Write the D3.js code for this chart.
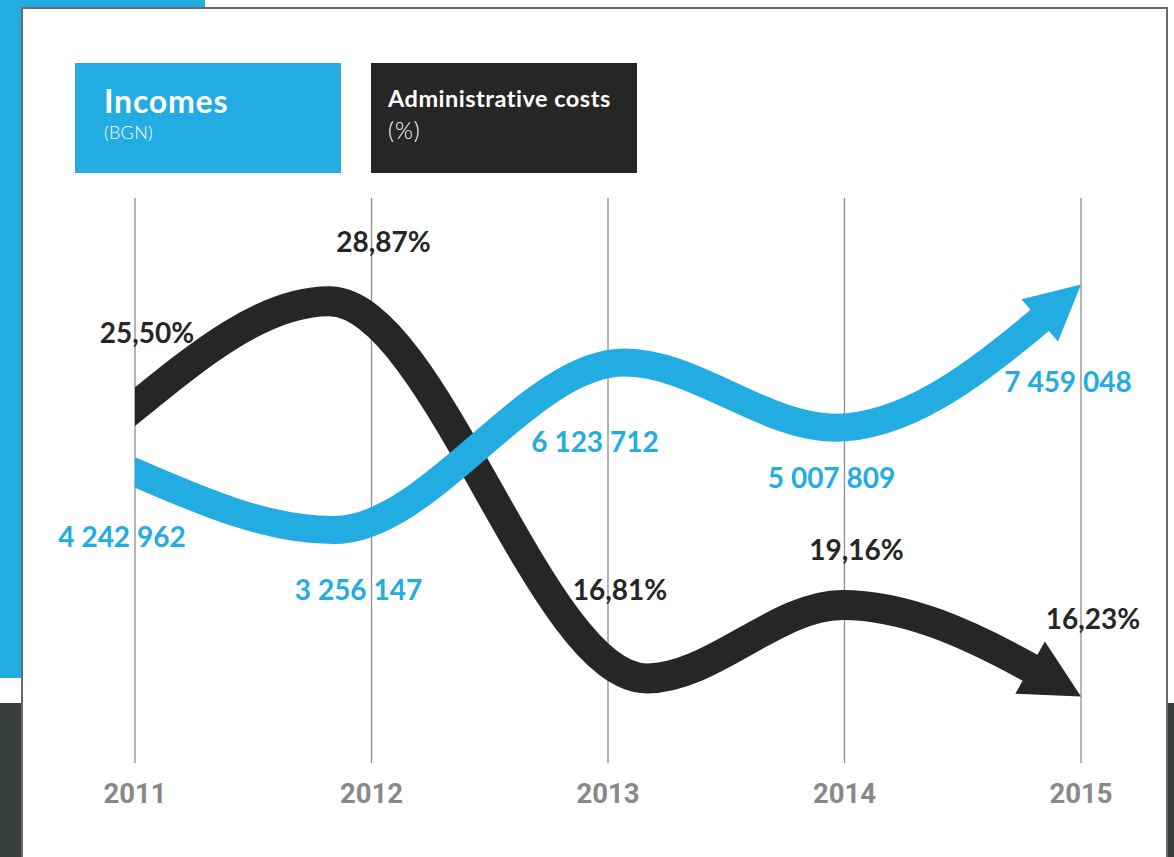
<!DOCTYPE html>
<html>
<head>
<meta charset="utf-8">
<script src="https://cdn.jsdelivr.net/npm/d3@7"></script>
<style>
  body { margin: 0; background: #fff; }
  svg { display: block; }
</style>
</head>
<body>
<svg id="chart" width="1174" height="857"></svg>
<script>
// data
const years = [2011, 2012, 2013, 2014, 2015];
const incomes = [4242962, 3256147, 6123712, 5007809, 7459048];
const adminCosts = [25.50, 28.87, 16.81, 19.16, 16.23];

// the drawn curves turn a bit off the year lines (in years)
const incomeBends = [2011, 2011.84, 2013.07, 2013.96, 2015];
const costBends = [2011, 2011.82, 2013.165, 2013.99, 2015];

// label nudges (px), layout only
const incomeLabelDy = [75, 70, 89, 60, 107];
const costLabelDy = [-64, -49, -78, -45, -68];

const BLUE = '#23ace2',
  BLACK = '#262626',
  DARK = '#373f3f';

const svg = d3.select('#chart');

const locale = d3.formatLocale({decimal: ',', thousands: ' ', grouping: [3], currency: ['', '']});
const fmtIncome = locale.format(',d');
const fmtCost = (v) => locale.format(',.2f')(v) + '%';

// background decoration
svg.append('rect').attr('x', 0).attr('y', 0).attr('width', 205).attr('height', 10).attr('fill', BLUE);
svg.append('rect').attr('x', 0).attr('y', 0).attr('width', 21).attr('height', 678).attr('fill', BLUE);
svg.append('rect').attr('x', 0).attr('y', 703).attr('width', 21).attr('height', 154).attr('fill', DARK);
svg.append('rect').attr('x', 1167).attr('y', 703).attr('width', 7).attr('height', 154).attr('fill', DARK);
svg.append('rect')
  .attr('x', 22).attr('y', 8).attr('width', 1145).attr('height', 900)
  .attr('fill', '#fff').attr('stroke', '#6a6a6a').attr('stroke-width', 2);

// legend
const legend = [
  {title: 'Incomes', unit: '(BGN)', color: BLUE, x: 75, dx: 29, size: 32, ls: 0.8, unitSize: 18, uls: 0.3, ty: 113, uy: 139},
  {title: 'Administrative costs', unit: '(%)', color: BLACK, x: 371, dx: 17, size: 23.5, ls: 0.5, unitSize: 23, uls: 1, ty: 107, uy: 139}
];
legend.forEach((d) => {
  svg.append('rect').attr('x', d.x).attr('y', 63).attr('width', 266).attr('height', 110).attr('fill', d.color);
  svg.append('text').attr('x', d.x + d.dx).attr('y', d.ty)
    .attr('fill', '#fff').attr('font-family', 'Lato, sans-serif').attr('font-weight', 700)
    .attr('font-size', d.size).attr('letter-spacing', d.ls).text(d.title);
  svg.append('text').attr('x', d.x + d.dx).attr('y', d.uy)
    .attr('fill', '#fff').attr('font-family', 'Lato, sans-serif').attr('font-weight', 300)
    .attr('font-size', d.unitSize).attr('letter-spacing', d.uls).text(d.unit);
});

// scales
const x = d3.scaleLinear().domain([2011, 2015]).range([135, 1081]);
const yInc = d3.scaleLinear().domain([3e6, 8e6]).range([545, 253]);
const yCost = d3.scaleLinear().domain([15, 30]).range([735, 266]);

// grid
svg.append('g').selectAll('line').data(years).join('line')
  .attr('x1', (d) => x(d)).attr('x2', (d) => x(d))
  .attr('y1', 198).attr('y2', 763)
  .attr('stroke', '#8c8c8c').attr('stroke-width', 1.3);

svg.append('g').selectAll('text').data(years).join('text')
  .attr('x', (d) => x(d)).attr('y', 803)
  .attr('text-anchor', 'middle')
  .attr('font-family', 'Roboto, sans-serif').attr('font-weight', 700).attr('font-size', 27.5)
  .attr('fill', '#888').text((d) => d);

svg.append('clipPath').attr('id', 'plotClip')
  .append('rect').attr('x', x(2011)).attr('y', 0).attr('width', 1174).attr('height', 857);

const g = svg.append('g');

function drawSeries(bends, values, yScale, color, width) {
  const pts = bends.map((b, i) => [x(b), yScale(values[i])]);
  const line = d3.line().curve(d3.curveMonotoneX);
  const path = g.append('path')
    .attr('d', line(pts))
    .attr('fill', 'none').attr('stroke', color).attr('stroke-width', width)
    .attr('stroke-linecap', 'square')
    .attr('clip-path', 'url(#plotClip)');

  //arrow head at the last point
  const total = path.node().getTotalLength();
  const headLen = width * 1.95;
  const base = path.node().getPointAtLength(total - headLen);
  path.attr('stroke-dasharray', `${total - headLen} ${total}`);
  const tip = pts[pts.length - 1];
  const dx = tip[0] - base.x, dy = tip[1] - base.y, len = Math.hypot(dx, dy);
  const nx = -dy / len, ny = dx / len, hw = width;
  g.append('path')
    .attr('d', `M${tip[0]},${tip[1]}L${base.x + nx * hw},${base.y + ny * hw}L${base.x - nx * hw},${base.y - ny * hw}Z`)
    .attr('fill', color);
}

drawSeries(costBends, adminCosts, yCost, BLACK, 30);
drawSeries(incomeBends, incomes, yInc, BLUE, 28);

// value labels
const labels = svg.append('g')
  .attr('font-family', 'Lato, sans-serif').attr('font-weight', 700).attr('font-size', 28)
  .attr('text-anchor', 'middle');

labels.selectAll('text.inc').data(incomes).join('text').attr('class', 'inc')
  .attr('x', (d, i) => x(years[i]) - 13)
  .attr('y', (d, i) => yInc(d) + incomeLabelDy[i])
  .attr('fill', BLUE).text((d) => fmtIncome(d));

labels.selectAll('text.cost').data(adminCosts).join('text').attr('class', 'cost')
  .attr('x', (d, i) => x(years[i]) + 12)
  .attr('y', (d, i) => yCost(d) + costLabelDy[i])
  .attr('fill', BLACK).text((d) => fmtCost(d));
</script>
</body>
</html>
